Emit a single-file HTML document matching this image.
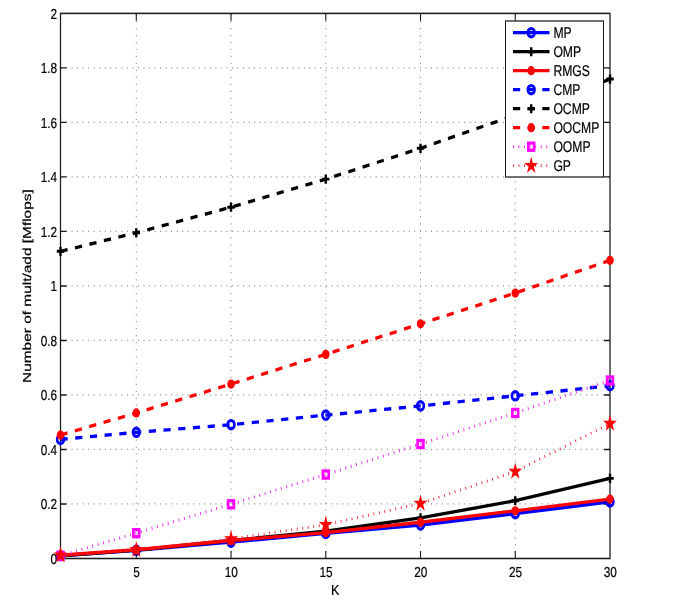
<!DOCTYPE html>
<html><head><meta charset="utf-8"><style>
html,body{margin:0;padding:0;background:#fff;}
svg{display:block;will-change:transform;}
text{font-family:"Liberation Sans",sans-serif;fill:#000;text-rendering:geometricPrecision;stroke:#000;stroke-width:0.2px;}
</style></head><body>
<svg width="685" height="600" viewBox="0 0 685 600">
<rect width="685" height="600" fill="#fff"/>
<g transform="scale(1,1.235)">
<path d="M136.29 452.23V10.85M231.03 452.23V10.85M325.78 452.23V10.85M420.52 452.23V10.85M515.26 452.23V10.85" stroke="#8c8c8c" stroke-width="1" stroke-dasharray="1 4.65" stroke-dashoffset="0.8" fill="none"/>
<path d="M60.50 408.09H610.00M60.50 363.95H610.00M60.50 319.81H610.00M60.50 275.68H610.00M60.50 231.54H610.00M60.50 187.40H610.00M60.50 143.26H610.00M60.50 99.13H610.00M60.50 54.99H610.00" stroke="#8c8c8c" stroke-width="1" stroke-dasharray="1 4.53" fill="none"/>
<path d="M136.29 452.23v-6M136.29 10.85v6M231.03 452.23v-6M231.03 10.85v6M325.78 452.23v-6M325.78 10.85v6M420.52 452.23v-6M420.52 10.85v6M515.26 452.23v-6M515.26 10.85v6M60.50 408.09h6M610.00 408.09h-6M60.50 363.95h6M610.00 363.95h-6M60.50 319.81h6M610.00 319.81h-6M60.50 275.68h6M610.00 275.68h-6M60.50 231.54h6M610.00 231.54h-6M60.50 187.40h6M610.00 187.40h-6M60.50 143.26h6M610.00 143.26h-6M60.50 99.13h6M610.00 99.13h-6M60.50 54.99h6M610.00 54.99h-6" stroke="#1a1a1a" stroke-width="1.1" fill="none"/>
<rect x="60.5" y="10.850" width="549.5" height="441.377" fill="none" stroke="#1a1a1a" stroke-width="1.25"/>
<polyline points="60.50,450.02 136.29,445.61 231.03,438.99 325.78,431.92 420.52,425.08 515.26,415.92 610.00,406.43" fill="none" stroke="#0000ff" stroke-width="2.7" stroke-linejoin="round"/>
<circle cx="60.50" cy="450.02" r="3.4" fill="none" stroke="#0000ff" stroke-width="2.55"/>
<circle cx="136.29" cy="445.61" r="3.4" fill="none" stroke="#0000ff" stroke-width="2.55"/>
<circle cx="231.03" cy="438.99" r="3.4" fill="none" stroke="#0000ff" stroke-width="2.55"/>
<circle cx="325.78" cy="431.92" r="3.4" fill="none" stroke="#0000ff" stroke-width="2.55"/>
<circle cx="420.52" cy="425.08" r="3.4" fill="none" stroke="#0000ff" stroke-width="2.55"/>
<circle cx="515.26" cy="415.92" r="3.4" fill="none" stroke="#0000ff" stroke-width="2.55"/>
<circle cx="610.00" cy="406.43" r="3.4" fill="none" stroke="#0000ff" stroke-width="2.55"/>
<polyline points="60.50,450.02 136.29,445.39 231.03,437.66 325.78,430.16 420.52,419.34 515.26,405.44 610.00,387.34" fill="none" stroke="#000000" stroke-width="2.7" stroke-linejoin="round"/>
<path d="M56.80 450.02H64.20M60.50 446.32V453.72" stroke="#000000" stroke-width="2.4" fill="none"/>
<path d="M132.59 445.39H139.99M136.29 441.69V449.09" stroke="#000000" stroke-width="2.4" fill="none"/>
<path d="M227.33 437.66H234.73M231.03 433.96V441.36" stroke="#000000" stroke-width="2.4" fill="none"/>
<path d="M322.08 430.16H329.48M325.78 426.46V433.86" stroke="#000000" stroke-width="2.4" fill="none"/>
<path d="M416.82 419.34H424.22M420.52 415.64V423.04" stroke="#000000" stroke-width="2.4" fill="none"/>
<path d="M511.56 405.44H518.96M515.26 401.74V409.14" stroke="#000000" stroke-width="2.4" fill="none"/>
<path d="M606.30 387.34H613.70M610.00 383.64V391.04" stroke="#000000" stroke-width="2.4" fill="none"/>
<polyline points="60.50,449.58 136.29,445.16 231.03,437.66 325.78,431.26 420.52,422.88 515.26,413.61 610.00,404.12" fill="none" stroke="#ff0000" stroke-width="2.7" stroke-linejoin="round"/>
<circle cx="60.50" cy="449.58" r="3.75" fill="#ff0000"/>
<circle cx="136.29" cy="445.16" r="3.75" fill="#ff0000"/>
<circle cx="231.03" cy="437.66" r="3.75" fill="#ff0000"/>
<circle cx="325.78" cy="431.26" r="3.75" fill="#ff0000"/>
<circle cx="420.52" cy="422.88" r="3.75" fill="#ff0000"/>
<circle cx="515.26" cy="413.61" r="3.75" fill="#ff0000"/>
<circle cx="610.00" cy="404.12" r="3.75" fill="#ff0000"/>
<polyline points="60.50,355.79 136.29,350.05 231.03,343.87 325.78,336.14 420.52,328.64 515.26,320.48 610.00,312.31" fill="none" stroke="#0000ff" stroke-width="2.7" stroke-dasharray="7.2 7.55" stroke-linejoin="round"/>
<circle cx="60.50" cy="355.79" r="3.4" fill="none" stroke="#0000ff" stroke-width="2.55"/>
<circle cx="136.29" cy="350.05" r="3.4" fill="none" stroke="#0000ff" stroke-width="2.55"/>
<circle cx="231.03" cy="343.87" r="3.4" fill="none" stroke="#0000ff" stroke-width="2.55"/>
<circle cx="325.78" cy="336.14" r="3.4" fill="none" stroke="#0000ff" stroke-width="2.55"/>
<circle cx="420.52" cy="328.64" r="3.4" fill="none" stroke="#0000ff" stroke-width="2.55"/>
<circle cx="515.26" cy="320.48" r="3.4" fill="none" stroke="#0000ff" stroke-width="2.55"/>
<circle cx="610.00" cy="312.31" r="3.4" fill="none" stroke="#0000ff" stroke-width="2.55"/>
<polyline points="60.50,203.51 136.29,188.50 231.03,167.76 325.78,145.03 420.52,120.09 515.26,93.17 610.00,64.04" fill="none" stroke="#000000" stroke-width="2.7" stroke-dasharray="7.2 7.55" stroke-linejoin="round"/>
<path d="M56.80 203.51H64.20M60.50 199.81V207.21" stroke="#000000" stroke-width="2.4" fill="none"/>
<path d="M132.59 188.50H139.99M136.29 184.80V192.20" stroke="#000000" stroke-width="2.4" fill="none"/>
<path d="M227.33 167.76H234.73M231.03 164.06V171.46" stroke="#000000" stroke-width="2.4" fill="none"/>
<path d="M322.08 145.03H329.48M325.78 141.33V148.73" stroke="#000000" stroke-width="2.4" fill="none"/>
<path d="M416.82 120.09H424.22M420.52 116.39V123.79" stroke="#000000" stroke-width="2.4" fill="none"/>
<path d="M511.56 93.17H518.96M515.26 89.47V96.87" stroke="#000000" stroke-width="2.4" fill="none"/>
<path d="M606.30 64.04H613.70M610.00 60.34V67.74" stroke="#000000" stroke-width="2.4" fill="none"/>
<polyline points="60.50,352.25 136.29,334.38 231.03,310.99 325.78,286.93 420.52,262.21 515.26,237.28 610.00,210.79" fill="none" stroke="#ff0000" stroke-width="2.7" stroke-dasharray="7.2 7.55" stroke-linejoin="round"/>
<circle cx="60.50" cy="352.25" r="3.75" fill="#ff0000"/>
<circle cx="136.29" cy="334.38" r="3.75" fill="#ff0000"/>
<circle cx="231.03" cy="310.99" r="3.75" fill="#ff0000"/>
<circle cx="325.78" cy="286.93" r="3.75" fill="#ff0000"/>
<circle cx="420.52" cy="262.21" r="3.75" fill="#ff0000"/>
<circle cx="515.26" cy="237.28" r="3.75" fill="#ff0000"/>
<circle cx="610.00" cy="210.79" r="3.75" fill="#ff0000"/>
<polyline points="60.50,450.02 136.29,431.70 231.03,408.31 325.78,384.25 420.52,359.54 515.26,334.38 610.00,308.12" fill="none" stroke="#e828e8" stroke-width="2.4" stroke-dasharray="0.9 4.65" stroke-dashoffset="0.6" stroke-linejoin="round"/>
<rect x="57.60" y="447.12" width="5.8" height="5.8" fill="none" stroke="#ff00ff" stroke-width="2.6"/>
<rect x="133.39" y="428.80" width="5.8" height="5.8" fill="none" stroke="#ff00ff" stroke-width="2.6"/>
<rect x="228.13" y="405.41" width="5.8" height="5.8" fill="none" stroke="#ff00ff" stroke-width="2.6"/>
<rect x="322.88" y="381.35" width="5.8" height="5.8" fill="none" stroke="#ff00ff" stroke-width="2.6"/>
<rect x="417.62" y="356.64" width="5.8" height="5.8" fill="none" stroke="#ff00ff" stroke-width="2.6"/>
<rect x="512.36" y="331.48" width="5.8" height="5.8" fill="none" stroke="#ff00ff" stroke-width="2.6"/>
<rect x="607.10" y="305.22" width="5.8" height="5.8" fill="none" stroke="#ff00ff" stroke-width="2.6"/>
<polyline points="60.50,449.58 136.29,445.16 231.03,436.34 325.78,424.86 420.52,407.65 515.26,381.83 610.00,342.99" fill="none" stroke="#e82838" stroke-width="2.3" stroke-dasharray="0.9 4.65" stroke-dashoffset="1.4" stroke-linejoin="round"/>
<polygon points="60.50,442.38 62.12,447.35 67.35,447.35 63.12,450.43 64.73,455.40 60.50,452.33 56.27,455.40 57.88,450.43 53.65,447.35 58.88,447.35" fill="#ff0000"/>
<polygon points="136.29,437.96 137.91,442.94 143.14,442.94 138.91,446.01 140.53,450.99 136.29,447.92 132.06,450.99 133.68,446.01 129.45,442.94 134.68,442.94" fill="#ff0000"/>
<polygon points="231.03,429.14 232.65,434.11 237.88,434.11 233.65,437.19 235.27,442.16 231.03,439.09 226.80,442.16 228.42,437.19 224.19,434.11 229.42,434.11" fill="#ff0000"/>
<polygon points="325.78,417.66 327.39,422.64 332.62,422.64 328.39,425.71 330.01,430.69 325.78,427.61 321.54,430.69 323.16,425.71 318.93,422.64 324.16,422.64" fill="#ff0000"/>
<polygon points="420.52,400.45 422.13,405.42 427.36,405.42 423.13,408.50 424.75,413.47 420.52,410.40 416.29,413.47 417.90,408.50 413.67,405.42 418.90,405.42" fill="#ff0000"/>
<polygon points="515.26,374.63 516.88,379.60 522.11,379.60 517.87,382.68 519.49,387.65 515.26,384.58 511.03,387.65 512.64,382.68 508.41,379.60 513.64,379.60" fill="#ff0000"/>
<polygon points="610.00,335.79 611.62,340.76 616.85,340.76 612.62,343.84 614.23,348.81 610.00,345.74 605.77,348.81 607.38,343.84 603.15,340.76 608.38,340.76" fill="#ff0000"/>
<rect x="505.5" y="17.004" width="98.0" height="126.316" fill="#fff" stroke="#1a1a1a" stroke-width="1"/>
<line x1="513" y1="26.48" x2="549.5" y2="26.48" stroke="#0000ff" stroke-width="2.7"/>
<circle cx="531.20" cy="26.48" r="3.4" fill="none" stroke="#0000ff" stroke-width="2.55"/>
<line x1="513" y1="41.86" x2="549.5" y2="41.86" stroke="#000000" stroke-width="2.7"/>
<path d="M527.50 41.86H534.90M531.20 38.16V45.56" stroke="#000000" stroke-width="2.4" fill="none"/>
<line x1="513" y1="57.25" x2="549.5" y2="57.25" stroke="#ff0000" stroke-width="2.7"/>
<circle cx="531.20" cy="57.25" r="3.75" fill="#ff0000"/>
<path d="M513 72.63H520.2M527.7 72.63H534.9M542.3 72.63H549.5" stroke="#0000ff" stroke-width="2.7" fill="none"/>
<circle cx="531.20" cy="72.63" r="3.4" fill="none" stroke="#0000ff" stroke-width="2.55"/>
<path d="M513 88.02H520.2M527.7 88.02H534.9M542.3 88.02H549.5" stroke="#000000" stroke-width="2.7" fill="none"/>
<path d="M527.50 88.02H534.90M531.20 84.32V91.72" stroke="#000000" stroke-width="2.4" fill="none"/>
<path d="M513 103.40H520.2M527.7 103.40H534.9M542.3 103.40H549.5" stroke="#ff0000" stroke-width="2.7" fill="none"/>
<circle cx="531.20" cy="103.40" r="3.75" fill="#ff0000"/>
<line x1="513" y1="118.79" x2="549.5" y2="118.79" stroke="#e828e8" stroke-width="2.4" stroke-dasharray="0.9 4.65"/>
<rect x="528.30" y="115.89" width="5.8" height="5.8" fill="none" stroke="#ff00ff" stroke-width="2.6"/>
<line x1="513" y1="134.17" x2="549.5" y2="134.17" stroke="#e82838" stroke-width="2.3" stroke-dasharray="0.9 4.65"/>
<polygon points="531.20,126.97 532.82,131.94 538.05,131.95 533.82,135.02 535.43,139.99 531.20,136.92 526.97,139.99 528.58,135.02 524.35,131.95 529.58,131.94" fill="#ff0000"/>
</g>
<text transform="translate(57.2,563.80) scale(0.815,1)" text-anchor="end" font-size="14.5">0</text>
<text transform="translate(57.2,509.29) scale(0.815,1)" text-anchor="end" font-size="14.5">0.2</text>
<text transform="translate(57.2,454.78) scale(0.815,1)" text-anchor="end" font-size="14.5">0.4</text>
<text transform="translate(57.2,400.27) scale(0.815,1)" text-anchor="end" font-size="14.5">0.6</text>
<text transform="translate(57.2,345.76) scale(0.815,1)" text-anchor="end" font-size="14.5">0.8</text>
<text transform="translate(57.2,291.25) scale(0.815,1)" text-anchor="end" font-size="14.5">1</text>
<text transform="translate(57.2,236.74) scale(0.815,1)" text-anchor="end" font-size="14.5">1.2</text>
<text transform="translate(57.2,182.23) scale(0.815,1)" text-anchor="end" font-size="14.5">1.4</text>
<text transform="translate(57.2,127.72) scale(0.815,1)" text-anchor="end" font-size="14.5">1.6</text>
<text transform="translate(57.2,73.21) scale(0.815,1)" text-anchor="end" font-size="14.5">1.8</text>
<text transform="translate(57.2,18.70) scale(0.815,1)" text-anchor="end" font-size="14.5">2</text>
<text transform="translate(136.49,576.8) scale(0.815,1)" text-anchor="middle" font-size="14.5">5</text>
<text transform="translate(231.23,576.8) scale(0.815,1)" text-anchor="middle" font-size="14.5">10</text>
<text transform="translate(325.98,576.8) scale(0.815,1)" text-anchor="middle" font-size="14.5">15</text>
<text transform="translate(420.72,576.8) scale(0.815,1)" text-anchor="middle" font-size="14.5">20</text>
<text transform="translate(515.46,576.8) scale(0.815,1)" text-anchor="middle" font-size="14.5">25</text>
<text transform="translate(610.20,576.8) scale(0.815,1)" text-anchor="middle" font-size="14.5">30</text>
<text transform="translate(335.2,595.3) scale(0.87,1)" text-anchor="middle" font-size="14.5">K</text>
<text transform="translate(31.3,286.1) rotate(-90) scale(1.33,1)" text-anchor="middle" font-size="11.6">Number of mult/add [Mflops]</text>
<text transform="translate(553.4,37.90) scale(0.785,1)" font-size="15.5">MP</text>
<text transform="translate(553.4,56.90) scale(0.785,1)" font-size="15.5">OMP</text>
<text transform="translate(553.4,75.90) scale(0.785,1)" font-size="15.5">RMGS</text>
<text transform="translate(553.4,94.90) scale(0.785,1)" font-size="15.5">CMP</text>
<text transform="translate(553.4,113.90) scale(0.785,1)" font-size="15.5">OCMP</text>
<text transform="translate(553.4,132.90) scale(0.785,1)" font-size="15.5">OOCMP</text>
<text transform="translate(553.4,151.90) scale(0.785,1)" font-size="15.5">OOMP</text>
<text transform="translate(553.4,170.90) scale(0.785,1)" font-size="15.5">GP</text>
</svg></body></html>
